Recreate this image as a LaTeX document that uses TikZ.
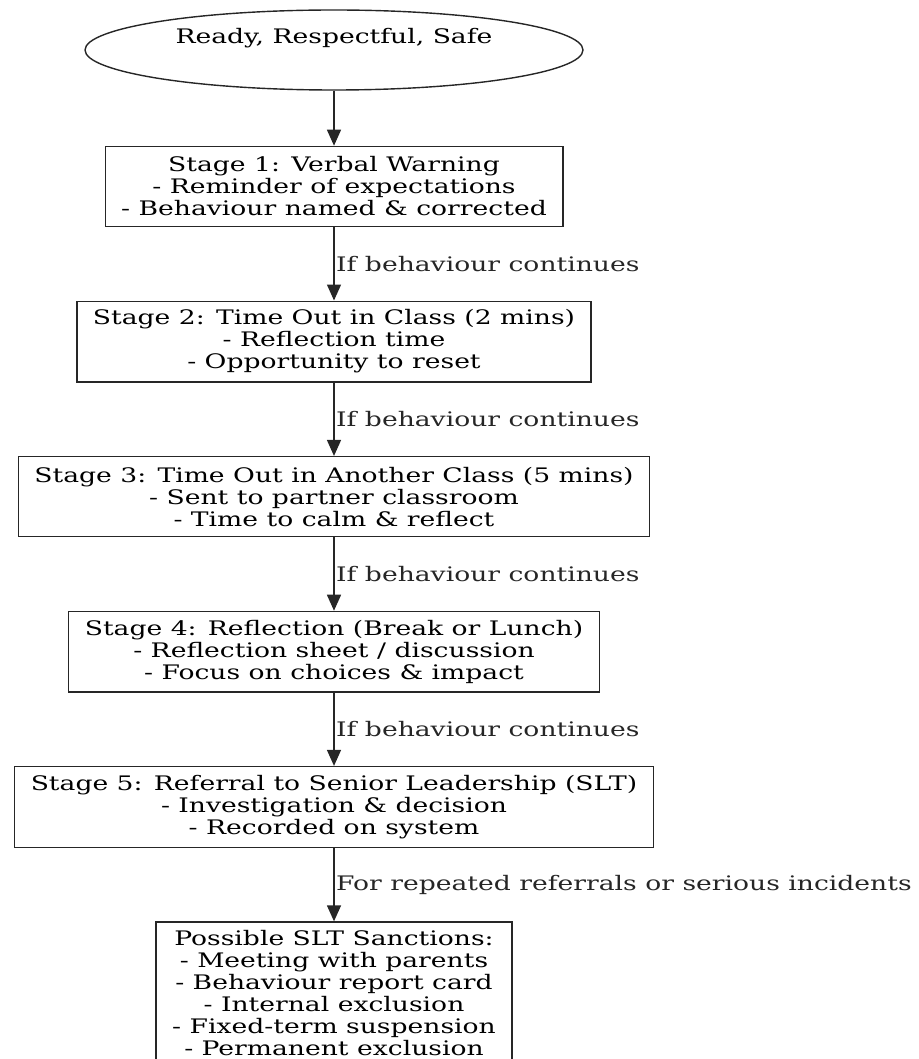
\documentclass[tikz,border=0pt]{standalone}
\usepackage{fontspec}
\setmainfont{DejaVu Serif}[FakeStretch=1.33]
\usetikzlibrary{arrows.meta,positioning,shapes.geometric}
\newcommand{\chartfont}{\fontsize{20}{22}\selectfont}
\tikzset{
  stagebox/.style={draw=black!85, line width=1.4pt, align=center, inner xsep=16pt, inner ysep=8.5pt, minimum height=80pt, font=\chartfont},
  motto/.style={ellipse, draw=black!85, line width=1.4pt, align=center, inner sep=0pt, minimum width=498pt, minimum height=80pt, font=\chartfont},
  arrow/.style={-{Triangle[length=16pt,width=14pt]}, line width=1.4pt, draw=black!85},
  edgelabel/.style={right, inner sep=1.5pt, font=\chartfont, text=black!85}
}

\begin{document}
\begin{tikzpicture}[node distance=73.4pt]
\useasboundingbox (0,0) rectangle (918pt,-1059pt);
\node[motto] (rrs) at (334pt,-50pt) {Ready, Respectful, Safe\\ \strut};
\node[stagebox, below=55pt of rrs] (s1) {Stage 1: Verbal Warning\\- Reminder of expectations\\- Behaviour named \& corrected};
\node[stagebox, below=of s1] (s2) {Stage 2: Time Out in Class (2 mins)\\- Reflection time\\- Opportunity to reset};
\node[stagebox, below=of s2] (s3) {Stage 3: Time Out in Another Class (5 mins)\\- Sent to partner classroom\\- Time to calm \& reflect};
\node[stagebox, below=of s3] (s4) {Stage 4: Reflection (Break or Lunch)\\- Reflection sheet / discussion\\- Focus on choices \& impact};
\node[stagebox, below=of s4] (s5) {Stage 5: Referral to Senior Leadership (SLT)\\- Investigation \& decision\\- Recorded on system};
\node[stagebox, below=of s5] (slt) {Possible SLT Sanctions:\\- Meeting with parents\\- Behaviour report card\\- Internal exclusion\\- Fixed-term suspension\\- Permanent exclusion};
\draw[arrow] (rrs) -- (s1);
\draw[arrow] (s1) -- node[edgelabel] {If behaviour continues} (s2);
\draw[arrow] (s2) -- node[edgelabel] {If behaviour continues} (s3);
\draw[arrow] (s3) -- node[edgelabel] {If behaviour continues} (s4);
\draw[arrow] (s4) -- node[edgelabel] {If behaviour continues} (s5);
\draw[arrow] (s5) -- node[edgelabel] {For repeated referrals or serious incidents} (slt);
\end{tikzpicture}
\end{document}
